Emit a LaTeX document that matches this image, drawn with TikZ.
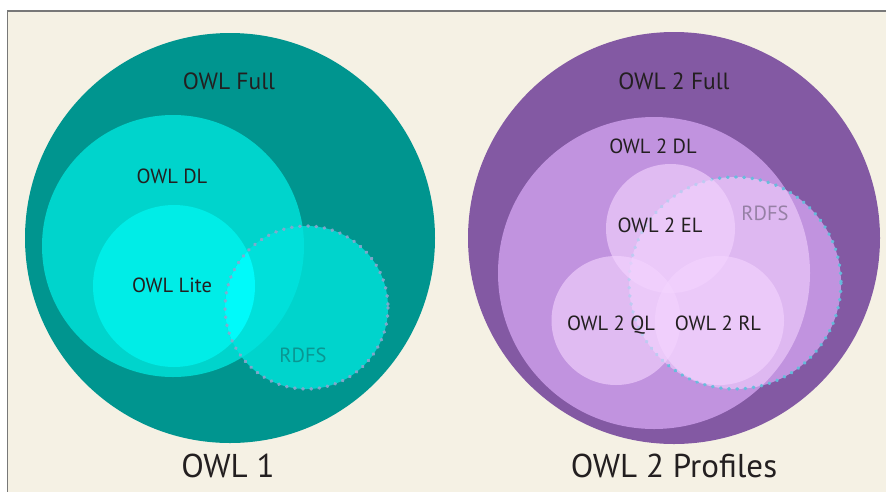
\documentclass[tikz,border=0pt]{standalone}
\usepackage{fontspec}
\setmainfont{PT Sans}
\definecolor{bgbeige}{RGB}{245,241,228}
\definecolor{framegray}{RGB}{120,120,120}
\definecolor{tealout}{RGB}{0,149,143}
\definecolor{tealdl}{RGB}{0,212,204}
\definecolor{teallite}{RGB}{0,237,231}
\definecolor{tealrdfsdl}{RGB}{0,224,218}
\definecolor{tealrdfslite}{RGB}{0,250,250}
\definecolor{tealdots}{RGB}{140,165,205}
\definecolor{tealrdfstext}{RGB}{10,150,146}
\definecolor{purpout}{RGB}{131,89,163}
\definecolor{purpdl}{RGB}{193,147,223}
\definecolor{purprdfsdl}{RGB}{222,184,241}
\definecolor{purpprof}{RGB}{244,212,255}
\definecolor{purpdots}{RGB}{100,190,220}
\definecolor{purprdfstext}{RGB}{150,128,165}
\definecolor{labeltext}{RGB}{35,31,32}
\tikzset{
  lbl/.style={text=labeltext, font=\fontsize{20.5}{22}\selectfont, inner sep=0pt, text height=14pt, text depth=0pt, anchor=center},
  fulllbl/.style={lbl, font=\fontsize{23.5}{25}\selectfont, text height=16pt},
  titlelbl/.style={lbl, font=\fontsize{33}{35}\selectfont, text height=22pt},
  dotline/.style={line width=3.4pt, line cap=round, dash pattern=on 0.6pt off 7.6pt},
}
\begin{document}
\begin{tikzpicture}[x=1pt,y=-1pt]
\useasboundingbox (0,0) rectangle (886,491);
\fill[white] (0,0) rectangle (886,491);
\draw[fill=bgbeige, draw=framegray, line width=1.2pt] (7.5,11) rectangle (892,497);

% ---------- OWL 1 ----------
\coordinate (c1full) at (230,238);
\coordinate (c1dl) at (173,246);
\coordinate (c1lite) at (174,286);
\coordinate (c1rdfs) at (306.5,307.5);
\fill[tealout] (c1full) circle[radius=205];
\fill[tealdl] (c1dl) circle[radius=131];
\fill[teallite] (c1lite) circle[radius=81];
\fill[tealdl] (c1rdfs) circle[radius=81.5];
\begin{scope}
  \clip (c1rdfs) circle[radius=81.5];
  \fill[tealrdfsdl] (c1dl) circle[radius=131];
  \fill[tealrdfslite] (c1lite) circle[radius=81];
\end{scope}
\draw[dotline, draw=tealdots, draw opacity=0.9] (c1rdfs) circle[radius=81.5];

\node[fulllbl] (owlfull) at (229,81) {OWL Full};
\node[lbl] (owldl) at (172,176) {OWL DL};
\node[lbl] (owllite) at (172,285) {OWL Lite};
\node[lbl, text=tealrdfstext] (rdfs1) at (303,355) {RDFS};
\node[titlelbl] (owl1) at (228,466) {OWL 1};

% ---------- OWL 2 ----------
\coordinate (c2full) at (674,238);
\coordinate (c2dl) at (654,273);
\coordinate (c2rdfs) at (735,283);
\coordinate (c2el) at (670.5,228.5);
\coordinate (c2ql) at (616,320.5);
\coordinate (c2rl) at (719.5,320.5);
\fill[purpout] (c2full) circle[radius=206];
\fill[purpdl] (c2dl) circle[radius=156];
\fill[purpdl] (c2rdfs) circle[radius=106];
\begin{scope}
  \clip (c2rdfs) circle[radius=106];
  \fill[purprdfsdl] (c2dl) circle[radius=156];
\end{scope}
\draw[dotline, draw=purpdots, draw opacity=0.95] (c2rdfs) circle[radius=106];
\fill[purpprof, fill opacity=0.62] (c2el) circle[radius=64.5];
\fill[purpprof, fill opacity=0.62] (c2ql) circle[radius=64.5];
\fill[purpprof, fill opacity=0.62] (c2rl) circle[radius=64.5];

\node[fulllbl] (owl2full) at (674,81) {OWL 2 Full};
\node[lbl] (owl2dl) at (653,146) {OWL 2 DL};
\node[lbl] (owl2el) at (660,225) {OWL 2 EL};
\node[lbl, text=purprdfstext] (rdfs2) at (765,213) {RDFS};
\node[lbl] (owl2ql) at (611,323) {OWL 2 QL};
\node[lbl] (owl2rl) at (718,323) {OWL 2 RL};
\node[titlelbl] (owl2prof) at (674,466) {OWL 2 Profiles};
\end{tikzpicture}
\end{document}
